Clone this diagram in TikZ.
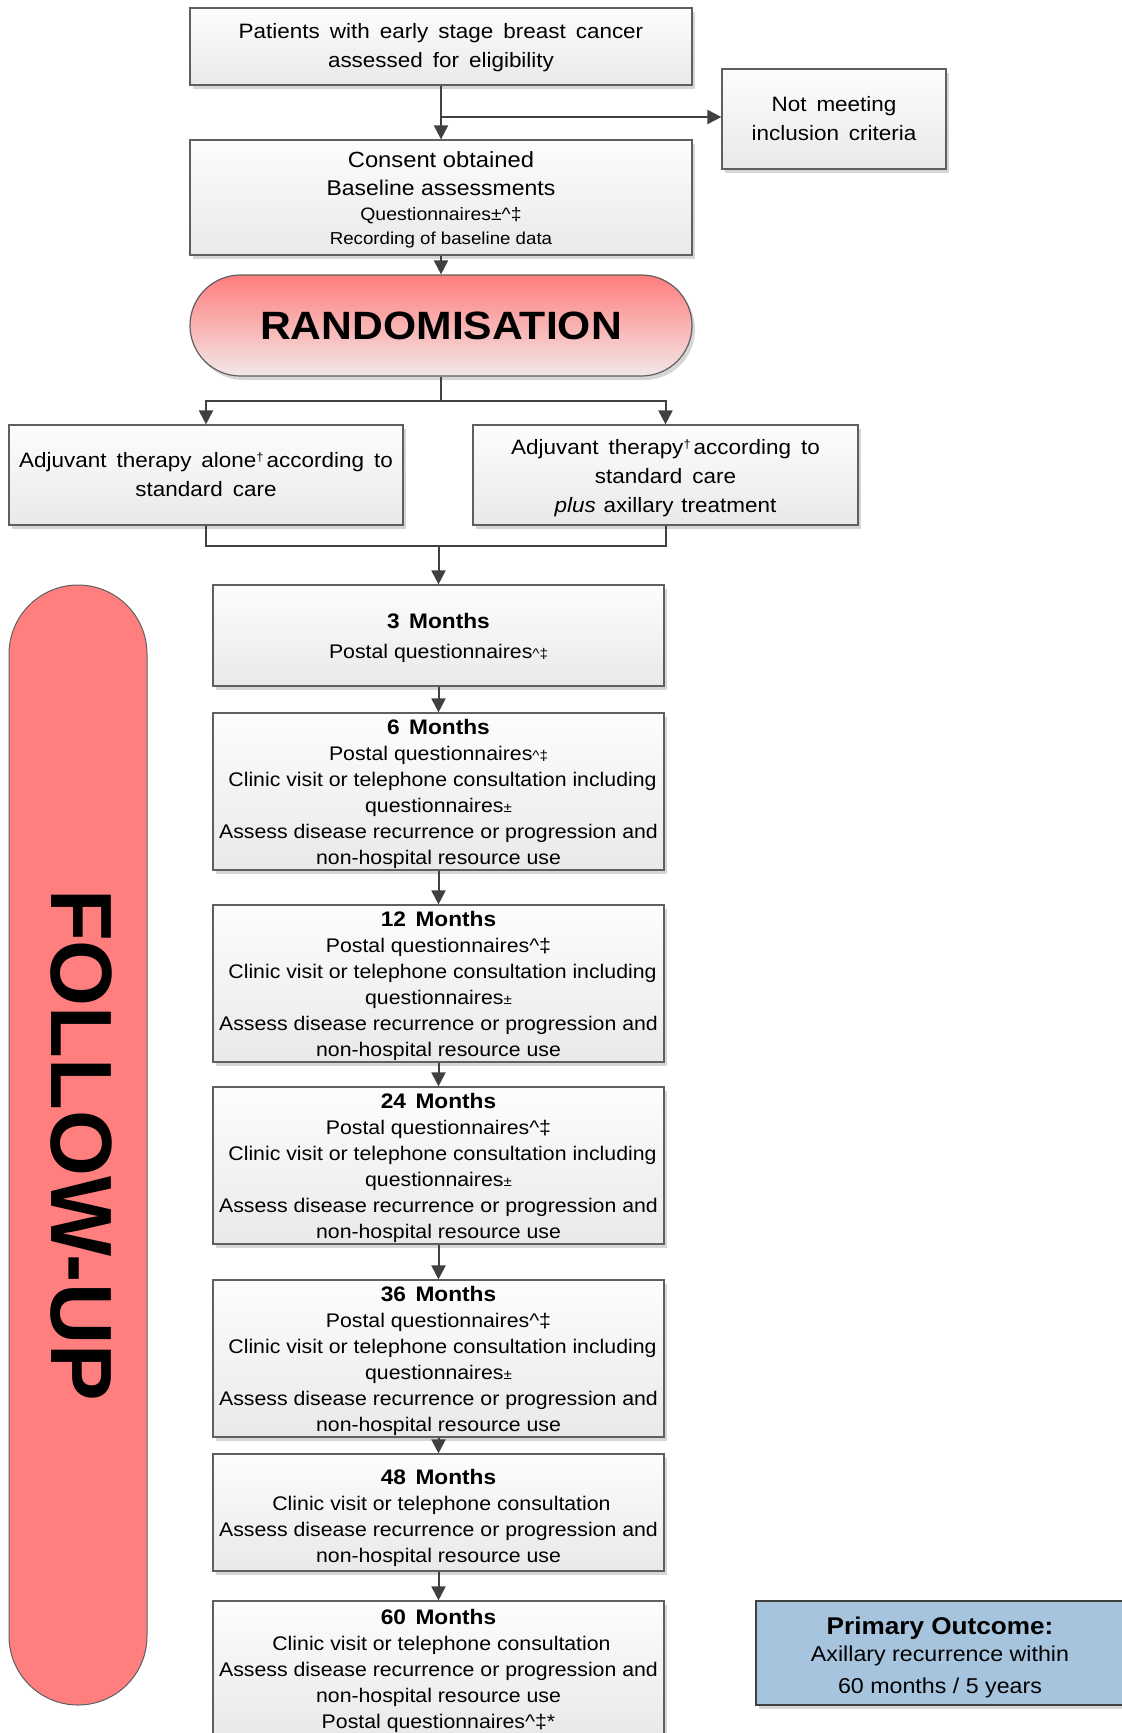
\documentclass[tikz,border=0pt]{standalone}
\usepackage{fontspec}
\setmainfont{Liberation Sans}[FakeStretch=1.08]
\newfontfamily\fufont{Liberation Sans}[FakeStretch=0.975]
\usetikzlibrary{arrows.meta,shapes.misc,shadows}
\definecolor{linecol}{RGB}{64,64,64}
\definecolor{bordcol}{RGB}{95,95,95}
\definecolor{boxtop}{RGB}{253,253,253}
\definecolor{boxbot}{RGB}{233,233,233}
\definecolor{randtop}{RGB}{255,125,125}
\definecolor{randbot}{RGB}{243,232,232}
\definecolor{fucol}{RGB}{255,127,127}
\definecolor{pocol}{RGB}{166,196,222}
\newcommand\dg{\raisebox{0.55ex}{\fontsize{12}{12}\selectfont †}}
\newcommand\sm[1]{{\fontsize{14}{14}\selectfont #1}}
\newcommand\smq[1]{{\fontsize{17.3}{17.3}\selectfont #1}}
\newcommand\up[1]{\rule{0pt}{#1}}
\newcommand\hd[2][20.8pt]{\up{#1}{\fontsize{21}{26}\selectfont\bfseries #2\hspace{0.45em}Months}}
\tikzset{
  shd/.style={drop shadow={shadow xshift=3pt,shadow yshift=-4pt,fill=black,opacity=0.16}},
  graybox/.style={rectangle,draw=bordcol,line width=1.2pt,top color=boxtop,bottom color=boxbot,
    shd,align=center,inner sep=0pt},
  topfont/.style={font={\fontsize{20.8}{29}\selectfont\spaceskip=0.48em\relax}},
  monthbox/.style={graybox,minimum width=451pt,font={\fontsize{19.7}{26}\selectfont}},
  conn/.style={draw=linecol,line width=2pt,-{Triangle[length=14pt,width=14pt]}},
  plain/.style={draw=linecol,line width=2pt},
}
\begin{document}
\begin{tikzpicture}[x=1pt,y=-1pt]
\useasboundingbox (0,0) rectangle (1122,1733);
\clip (0,0) rectangle (1122,1733);

% top part
\node[graybox,topfont,minimum width=502pt,minimum height=77pt] (top) at (441,46.5)
  {\up{17.4pt}Patients with early stage breast cancer\\assessed for eligibility};
\node[graybox,topfont,minimum width=224pt,minimum height=100pt] (notmeet) at (834,119)
  {Not meeting\\inclusion criteria};
\node[graybox,minimum width=502pt,minimum height=115pt,font={\fontsize{21.3}{28}\selectfont}] (consent) at (441,197.5)
  {\up{20.4pt}{\fontsize{22}{28}\selectfont Consent obtained}\\Baseline assessments\\[-3pt]{\fontsize{18}{18}\selectfont Questionnaires±\textasciicircum‡}\\[-4pt]\smq{Recording of baseline data}};
\node[rounded rectangle,draw=bordcol,line width=1.2pt,top color=randtop,bottom color=randbot,shd,
  minimum width=502pt,minimum height=101pt,inner sep=0pt,font={\fontsize{39.5}{41}\selectfont\bfseries}] (rand) at (441,325.5)
  {RANDOMISATION};
\node[graybox,topfont,minimum width=394pt,minimum height=100pt] (left) at (206,475)
  {Adjuvant therapy alone\dg\hspace{3pt}according to\\standard care};
\node[graybox,topfont,minimum width=385pt,minimum height=100pt] (right) at (665.5,475)
  {\up{21.2pt}Adjuvant therapy\dg\hspace{3pt}according to\\standard care\\{\spaceskip=0.38em\relax\textit{plus} axillary treatment}};

% follow-up pill
\node[rounded rectangle,rotate=-90,draw=bordcol,line width=1pt,fill=fucol,
  minimum width=1120pt,minimum height=138pt,inner sep=0pt,text depth=7pt,
  font={\fufont\bfseries\fontsize{87}{87}\selectfont}] (fu) at (78,1145) {FOLLOW-UP};

% month boxes
\node[monthbox,minimum height=101pt] (m3) at (438.5,635.5)
  {\hd{3}\\[4pt]Postal questionnaires\sm{\textasciicircum‡}};
\node[monthbox,minimum height=157pt] (m6) at (438.5,791.5)
  {\hd{6}\\Postal questionnaires\sm{\textasciicircum‡}\\\hspace*{8pt}Clinic visit or telephone consultation including\\questionnaires\sm{±}\\Assess disease recurrence or progression and\\non-hospital resource use};
\node[monthbox,minimum height=157pt] (m12) at (438.5,983.5)
  {\hd{12}\\Postal questionnaires\textasciicircum‡\\\hspace*{8pt}Clinic visit or telephone consultation including\\questionnaires\sm{±}\\Assess disease recurrence or progression and\\non-hospital resource use};
\node[monthbox,minimum height=157pt] (m24) at (438.5,1165.5)
  {\hd{24}\\Postal questionnaires\textasciicircum‡\\\hspace*{8pt}Clinic visit or telephone consultation including\\questionnaires\sm{±}\\Assess disease recurrence or progression and\\non-hospital resource use};
\node[monthbox,minimum height=157pt] (m36) at (438.5,1358.5)
  {\hd{36}\\Postal questionnaires\textasciicircum‡\\\hspace*{8pt}Clinic visit or telephone consultation including\\questionnaires\sm{±}\\Assess disease recurrence or progression and\\non-hospital resource use};
\node[monthbox,minimum height=117pt] (m48) at (438.5,1512.5)
  {\hd[26.3pt]{48}\\\hspace*{6pt}Clinic visit or telephone consultation\\Assess disease recurrence or progression and\\non-hospital resource use};
\node[monthbox,minimum height=134pt] (m60) at (438.5,1668)
  {\hd{60}\\\hspace*{6pt}Clinic visit or telephone consultation\\Assess disease recurrence or progression and\\non-hospital resource use\\Postal questionnaires\textasciicircum‡*};

% primary outcome
\node[rectangle,draw=linecol,line width=1.4pt,fill=pocol,shd,minimum width=368pt,minimum height=104pt,
  inner sep=0pt,align=center,font={\fontsize{21.5}{27}\selectfont}] (po) at (940,1653)
  {\up{26.4pt}{\fontsize{24.2}{27}\selectfont\bfseries Primary Outcome:}\\Axillary recurrence within\\[5pt]60 months / 5 years};

% connectors
\coordinate (br) at (441,117);
\coordinate (sp) at (441,401);
\coordinate (mg) at (438.5,546);
\draw[conn] (top.south) -- (consent.north);
\draw[conn] (br) -- (br -| notmeet.west);
\draw[conn] (consent.south) -- (rand.north);
\draw[plain] (rand.south) -- (sp);
\draw[conn] (sp) -| (left.north);
\draw[conn] (sp) -| (right.north);
\draw[plain] (left.south) |- (mg);
\draw[plain] (right.south) |- (mg);
\draw[conn] (mg) -- (m3.north);
\draw[conn] (m3.south) -- (m6.north);
\draw[conn] (m6.south) -- (m12.north);
\draw[conn] (m12.south) -- (m24.north);
\draw[conn] (m24.south) -- (m36.north);
\draw[conn] (m36.south) -- (m48.north);
\draw[conn] (m48.south) -- (m60.north);
\end{tikzpicture}
\end{document}
